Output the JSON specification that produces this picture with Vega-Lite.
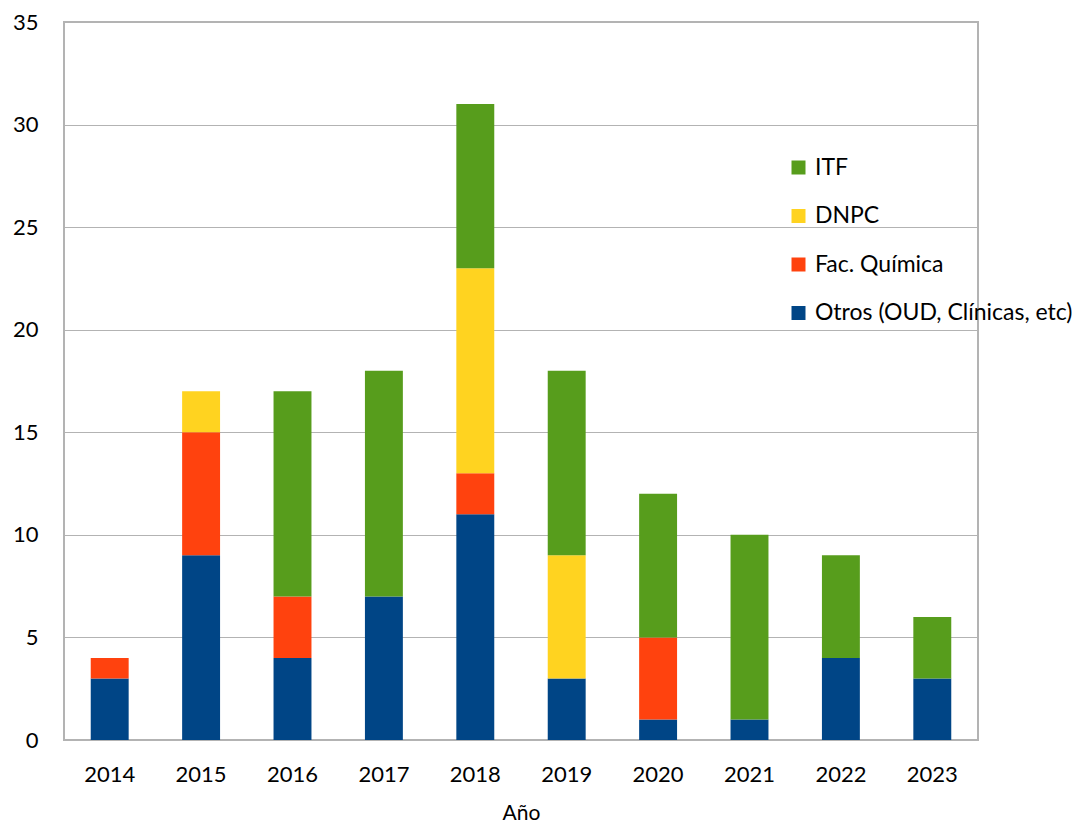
{
  "$schema": "https://vega.github.io/schema/vega-lite/v6.json",
  "width": 914,
  "height": 718,
  "autosize": {"type": "none"},
  "padding": {"left": 64, "top": 22, "right": 108, "bottom": 82},
  "background": "white",
  "config": {
    "font": "Lato",
    "view": {"stroke": "#b3b3b3", "strokeWidth": 2},
    "axis": {"labelFont": "Lato", "titleFont": "Lato"},
    "legend": {"labelFont": "Lato"}
  },
  "data": {
    "values": [
      {"anio": "2014", "cat": "Otros (OUD, Clínicas, etc)", "o": 1, "n": 3},
      {"anio": "2014", "cat": "Fac. Química", "o": 2, "n": 1},
      {"anio": "2015", "cat": "Otros (OUD, Clínicas, etc)", "o": 1, "n": 9},
      {"anio": "2015", "cat": "Fac. Química", "o": 2, "n": 6},
      {"anio": "2015", "cat": "DNPC", "o": 3, "n": 2},
      {"anio": "2016", "cat": "Otros (OUD, Clínicas, etc)", "o": 1, "n": 4},
      {"anio": "2016", "cat": "Fac. Química", "o": 2, "n": 3},
      {"anio": "2016", "cat": "ITF", "o": 4, "n": 10},
      {"anio": "2017", "cat": "Otros (OUD, Clínicas, etc)", "o": 1, "n": 7},
      {"anio": "2017", "cat": "ITF", "o": 4, "n": 11},
      {"anio": "2018", "cat": "Otros (OUD, Clínicas, etc)", "o": 1, "n": 11},
      {"anio": "2018", "cat": "Fac. Química", "o": 2, "n": 2},
      {"anio": "2018", "cat": "DNPC", "o": 3, "n": 10},
      {"anio": "2018", "cat": "ITF", "o": 4, "n": 8},
      {"anio": "2019", "cat": "Otros (OUD, Clínicas, etc)", "o": 1, "n": 3},
      {"anio": "2019", "cat": "DNPC", "o": 3, "n": 6},
      {"anio": "2019", "cat": "ITF", "o": 4, "n": 9},
      {"anio": "2020", "cat": "Otros (OUD, Clínicas, etc)", "o": 1, "n": 1},
      {"anio": "2020", "cat": "Fac. Química", "o": 2, "n": 4},
      {"anio": "2020", "cat": "ITF", "o": 4, "n": 7},
      {"anio": "2021", "cat": "Otros (OUD, Clínicas, etc)", "o": 1, "n": 1},
      {"anio": "2021", "cat": "ITF", "o": 4, "n": 9},
      {"anio": "2022", "cat": "Otros (OUD, Clínicas, etc)", "o": 1, "n": 4},
      {"anio": "2022", "cat": "ITF", "o": 4, "n": 5},
      {"anio": "2023", "cat": "Otros (OUD, Clínicas, etc)", "o": 1, "n": 3},
      {"anio": "2023", "cat": "ITF", "o": 4, "n": 3}
    ]
  },
  "mark": {"type": "bar"},
  "encoding": {
    "x": {
      "field": "anio",
      "type": "nominal",
      "title": "Año",
      "scale": {"paddingInner": 0.585, "paddingOuter": 0.2925},
      "axis": {
        "labelAngle": 0,
        "labelFontSize": 22,
        "labelColor": "#000000",
        "labelPadding": 24,
        "ticks": false,
        "domain": false,
        "titleFontSize": 21,
        "titleFontWeight": "normal",
        "titleColor": "#000000",
        "titlePadding": 17
      }
    },
    "y": {
      "field": "n",
      "type": "quantitative",
      "stack": "zero",
      "title": null,
      "scale": {"domain": [0, 35], "nice": false},
      "axis": {
        "values": [0, 5, 10, 15, 20, 25, 30, 35],
        "labelFontSize": 22,
        "labelColor": "#000000",
        "labelPadding": 26,
        "ticks": false,
        "domain": false,
        "gridColor": "#b3b3b3",
        "gridWidth": 1.2
      }
    },
    "color": {
      "field": "cat",
      "type": "nominal",
      "scale": {
        "domain": ["ITF", "DNPC", "Fac. Química", "Otros (OUD, Clínicas, etc)"],
        "range": ["#579d1c", "#ffd320", "#ff420e", "#004586"]
      },
      "legend": {
        "title": null,
        "orient": "none",
        "legendX": 723,
        "legendY": 134,
        "symbolType": "square",
        "symbolSize": 196,
        "symbolStrokeWidth": 0,
        "labelFontSize": 23,
        "labelColor": "#000000",
        "labelOffset": 5,
        "rowPadding": 24.5,
        "labelLimit": 400
      }
    },
    "order": {"field": "o", "type": "quantitative", "sort": "ascending"}
  }
}
